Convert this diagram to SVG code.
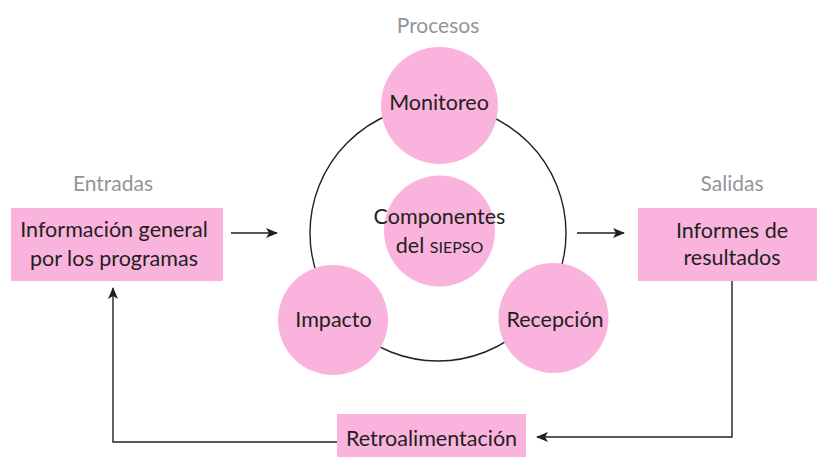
<svg xmlns="http://www.w3.org/2000/svg" width="817" height="457" viewBox="0 0 817 457">
<style>
.box{fill:#f9b3dc}
.t{font-family:Lato,"Open Sans","Liberation Sans",sans-serif;font-size:21.5px;fill:#231f20;text-anchor:middle}
.sc{font-size:16px}
.lbl{font-family:Lato,"Open Sans","Liberation Sans",sans-serif;font-size:21px;fill:#939598;text-anchor:middle}
.ln{fill:none;stroke:#231f20;stroke-width:1.4}
</style>
<defs>
<marker id="ah" viewBox="0 0 12 10" refX="11" refY="5" markerWidth="12" markerHeight="10" markerUnits="userSpaceOnUse" orient="auto">
<path d="M0,0 L12,5 L0,10 L3,5 Z" fill="#231f20"/>
</marker>
</defs>
<g id="labels">
<text class="lbl" x="113" y="191">Entradas</text>
<text class="lbl" x="438" y="33">Procesos</text>
<text class="lbl" x="732" y="191">Salidas</text>
</g>
<g id="ring">
<circle class="ln" cx="438" cy="233" r="128"/>
</g>
<g id="connectors">
<line class="ln" x1="231" y1="233" x2="277" y2="233" marker-end="url(#ah)"/>
<line class="ln" x1="577" y1="233" x2="624" y2="233" marker-end="url(#ah)"/>
<polyline class="ln" points="732,281 732,437 537,437" marker-end="url(#ah)"/>
<polyline class="ln" points="337,442 113,442 113,288" marker-end="url(#ah)"/>
</g>
<g id="entradas">
<rect class="box" x="11" y="208" width="212" height="73"/>
<text class="t" x="114" y="237">Información general</text>
<text class="t" x="114" y="266">por los programas</text>
</g>
<g id="monitoreo">
<circle class="box" cx="439.5" cy="105.5" r="58.5"/>
<text class="t" x="439" y="110">Monitoreo</text>
</g>
<g id="componentes">
<circle class="box" cx="439.5" cy="231" r="55.5"/>
<text class="t" x="439.5" y="224">Componentes</text>
<text class="t" x="439.5" y="253">del <tspan class="sc">SIEPSO</tspan></text>
</g>
<g id="impacto">
<circle class="box" cx="333" cy="320" r="55"/>
<text class="t" x="333.5" y="327">Impacto</text>
</g>
<g id="recepcion">
<circle class="box" cx="553.5" cy="318" r="55"/>
<text class="t" x="555" y="327">Recepción</text>
</g>
<g id="salidas">
<rect class="box" x="638" y="208" width="179" height="73"/>
<text class="t" x="732" y="238">Informes de</text>
<text class="t" x="732" y="265">resultados</text>
</g>
<g id="retro">
<rect class="box" x="337" y="414" width="189" height="43"/>
<text class="t" x="431.5" y="446">Retroalimentación</text>
</g>
</svg>
